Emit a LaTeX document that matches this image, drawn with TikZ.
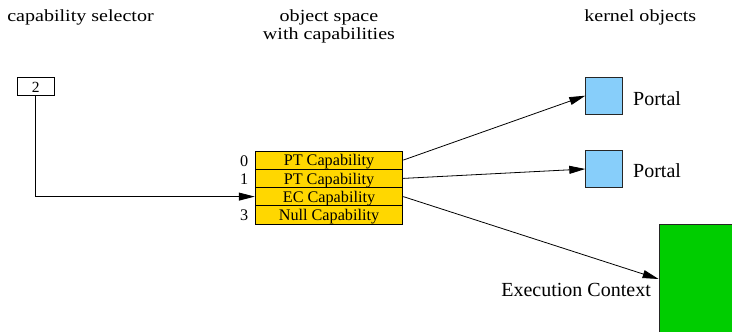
\documentclass[tikz,border=0pt]{standalone}
\usepackage{fontspec}
\setmainfont{Liberation Serif}
\usetikzlibrary{arrows.meta}
\definecolor{capgold}{HTML}{FFD700}
\definecolor{portalblue}{HTML}{87CEFA}
\definecolor{ecgreen}{HTML}{00CD00}
\begin{document}
\begin{tikzpicture}[x=1pt, y=-1pt,
  heading/.style={font=\fontsize{17}{17.6}\selectfont, xscale=1.18, inner sep=0pt, anchor=base},
  capslot/.style={draw=black, fill=capgold, line width=0.8pt, minimum width=147.7pt,
    minimum height=18.25pt, inner sep=0pt, text height=11.6pt, text depth=0pt,
    font=\fontsize{16.2}{18}\selectfont},
  slotindex/.style={font=\fontsize{16.2}{18}\selectfont, inner sep=0pt, anchor=base east},
  selbox/.style={draw=black, fill=white, line width=0.8pt, minimum width=36.7pt,
    minimum height=18.4pt, inner sep=0pt, text height=11pt, text depth=0pt,
    font=\fontsize{15.5}{17}\selectfont},
  portalbox/.style={draw=black!85, fill=portalblue, line width=0.8pt, minimum width=36.6pt,
    minimum height=36.7pt, inner sep=0pt},
  ecbox/.style={draw=black!85, fill=ecgreen, line width=0.8pt, minimum width=80pt,
    minimum height=110pt, inner sep=0pt},
  objlabel/.style={font=\fontsize{20}{22}\selectfont, inner sep=0pt},
  link/.style={draw=black, line width=0.8pt, -{Triangle[length=16pt, width=8pt]}}
]
\useasboundingbox (0,0) rectangle (732,332);

% column headings (a multi-line node sits on the baseline of its last line)
\node[heading] (hsel) at (80.5,21.7) {capability selector};
\node[heading, align=center] (hspace) at (329,39.3) {object space\\with capabilities};
\node[heading] (hkern) at (640.3,21.7) {kernel objects};

% capability selector register
\node[selbox] (sel) at (35.7,86.5) {2};

% object space: four capability slots
\node[capslot] (r0) at (329,160.1) {PT Capability};
\node[capslot] (r1) at (329,178.4) {PT Capability};
\node[capslot] (r2) at (329,196.6) {EC Capability};
\node[capslot] (r3) at (329,214.9) {Null Capability};
\node[slotindex] (i0) at (248.5,166.0) {0};
\node[slotindex] (i1) at (248.5,184.3) {1};
\node[slotindex] (i3) at (248.5,220.8) {3};

% kernel objects
\node[portalbox] (p1) at (604,95.7) {};
\node[portalbox] (p2) at (604,169) {};
\node[ecbox] (ec) at (699,279) {};
\node[objlabel, anchor=base west] (l1) at (633,105.5) {Portal};
\node[objlabel, anchor=base west] (l2) at (633,177.3) {Portal};
\node[objlabel, anchor=base east] (lec) at (651,296.7) {Execution Context};

% selector indexes slot 2, slots refer to objects
\draw[link] (sel.south) |- (r2.west);
\draw[link] (r0.east) -- (p1.west);
\draw[link] (r1.east) -- (p2.west);
\draw[link] (r2.east) -- (ec.west);
\end{tikzpicture}
\end{document}
